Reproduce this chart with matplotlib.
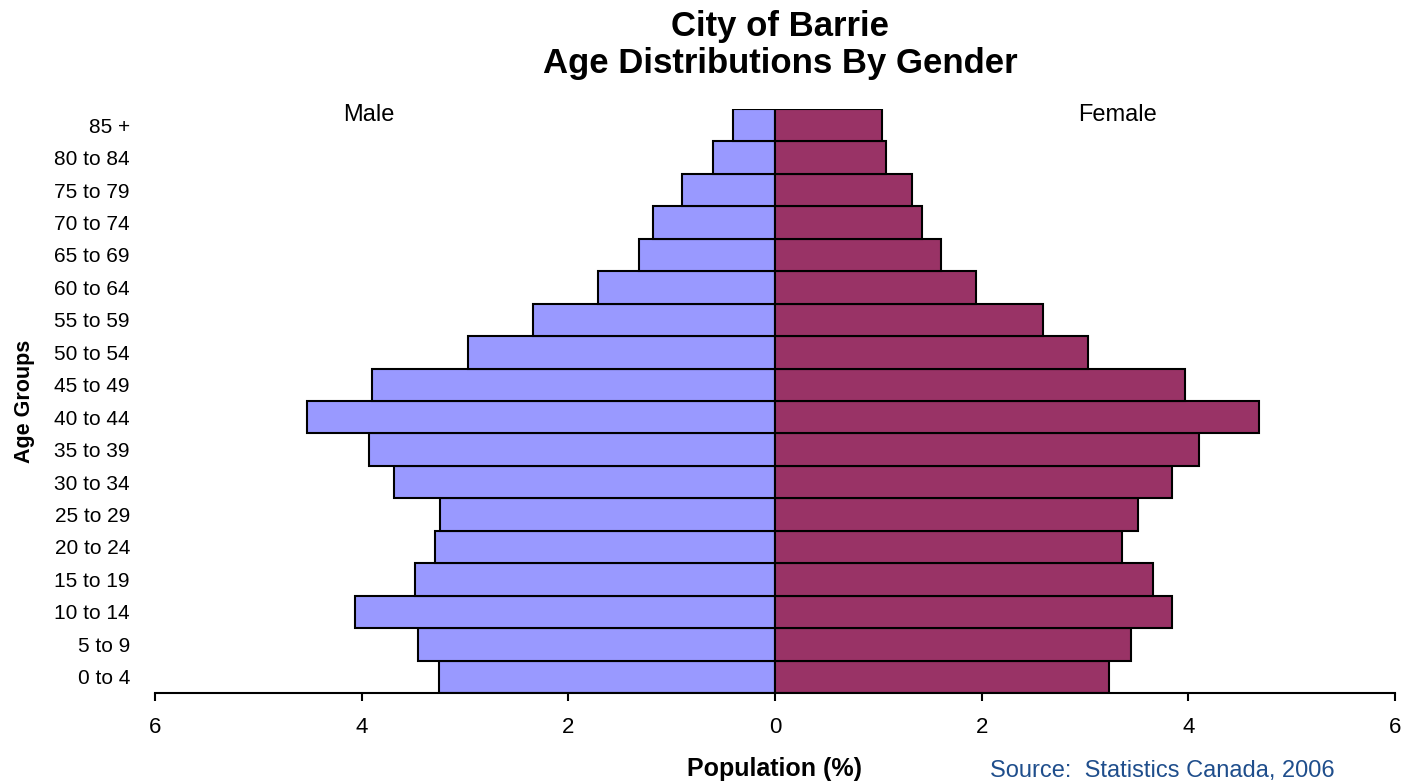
import matplotlib
matplotlib.use('Agg')

import matplotlib.pyplot as plt

age_groups = ["0 to 4", "5 to 9", "10 to 14", "15 to 19", "20 to 24", "25 to 29",
              "30 to 34", "35 to 39", "40 to 44", "45 to 49", "50 to 54", "55 to 59",
              "60 to 64", "65 to 69", "70 to 74", "75 to 79", "80 to 84", "85 +"]
male = [3.25, 3.45, 4.06, 3.48, 3.29, 3.24, 3.69, 3.93, 4.53, 3.90, 2.97, 2.34,
        1.71, 1.32, 1.18, 0.90, 0.60, 0.41]
female = [3.23, 3.45, 3.84, 3.66, 3.36, 3.51, 3.84, 4.10, 4.68, 3.97, 3.03, 2.59,
          1.95, 1.61, 1.42, 1.33, 1.07, 1.04]
x_ticks = [-6, -4, -2, 0, 2, 4, 6]

plt.rcParams['font.family'] = ['Liberation Sans', 'DejaVu Sans']

fig = plt.figure(figsize=(14.18, 7.83), dpi=100)
ax = fig.add_axes([155 / 1418, 1 - 693 / 783, 1240 / 1418, 584 / 783])

# male bars go left (negative), female bars go right
y = range(len(age_groups))
ax.barh(y, [-m for m in male], height=1.0, color="#9999FF", edgecolor="black", linewidth=1.5)
ax.barh(y, female, height=1.0, color="#993366", edgecolor="black", linewidth=1.5)

ax.set_xlim(-6, 6)
ax.set_ylim(-0.5, len(age_groups) - 0.5)
ax.set_xticks(x_ticks)
ax.set_xticklabels([str(abs(t)) for t in x_ticks], fontsize=16)
ax.set_yticks(list(y))
ax.set_yticklabels(age_groups, fontsize=15)
ax.tick_params(axis='y', length=0, pad=18)
ax.tick_params(axis='x', length=6, width=1.5, direction='out', pad=11)

for s in ["top", "right", "left"]:
    ax.spines[s].set_visible(False)
ax.spines["bottom"].set_linewidth(1.5)

ax.set_xlabel("Population (%)", fontsize=18, fontweight='bold', labelpad=14)
ax.set_ylabel("Age Groups", fontsize=15.5, fontweight='bold', labelpad=14)

fig.text(780 / 1418, 1 - 45 / 783, "City of Barrie\nAge Distributions By Gender",
         ha='center', va='center', fontsize=25, fontweight='bold', linespacing=1.15)
fig.text(369 / 1418, 1 - 115 / 783, "Male", ha='center', va='center', fontsize=17)
fig.text(1118 / 1418, 1 - 115 / 783, "Female", ha='center', va='center', fontsize=17)
fig.text(990 / 1418, 1 / 783, "Source:  Statistics Canada, 2006", ha='left', va='bottom',
         fontsize=17, color="#1F4E8C")

fig.savefig("out.png", dpi=100)
